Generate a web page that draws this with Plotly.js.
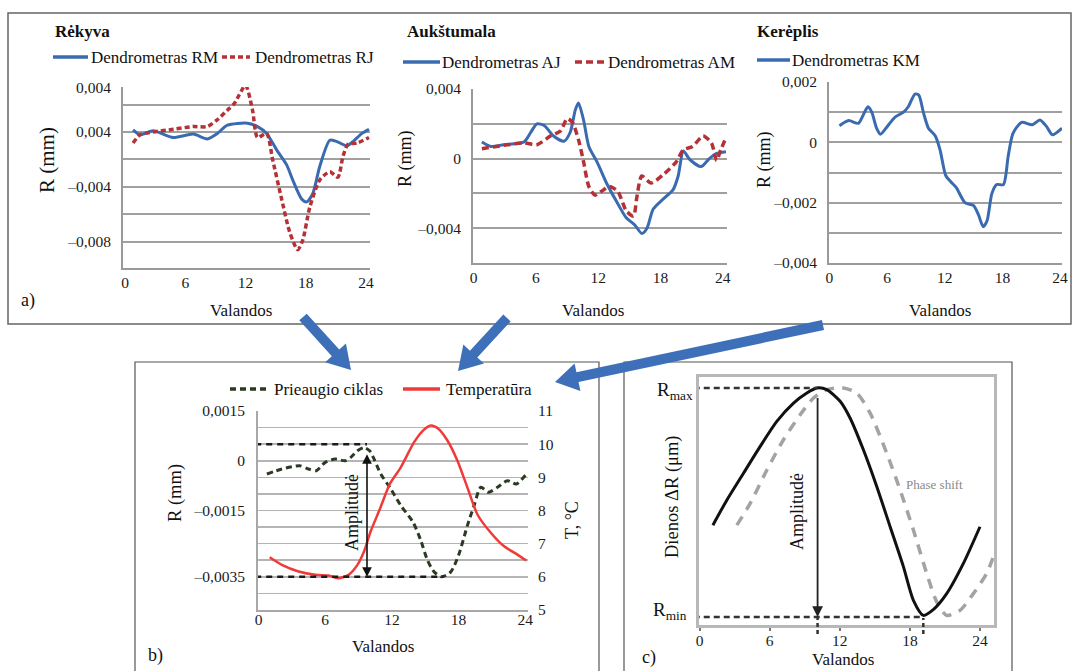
<!DOCTYPE html>
<html><head><meta charset="utf-8">
<script src="https://cdn.plot.ly/plotly-3.0.1.min.js"></script>
<style>html,body{margin:0;padding:0;background:#fff}#chart{width:1072px;height:671px}</style>
</head><body><div id="chart"></div>
<script>
// ---------------- DATA ----------------
const hourTicks = [0, 6, 12, 18, 24];

// a) Rėkyva
const rmHours = [0.8,1.5,2.8,4.8,6.8,8.2,9.2,10.2,12.2,13.2,14.1,15.1,16.1,16.7,17.6,18.1,18.7,19.4,20.4,21.1,22.1,22.7,23.6,24.3];
const rmValues = [0.00015,-0.0002,0.0001,-0.0004,-0.00015,-0.0005,-0.0001,0.0005,0.00065,0.0004,-0.0001,-0.0013,-0.0024,-0.0035,-0.0049,-0.0051,-0.0045,-0.0025,-0.0006,-0.0007,-0.001,-0.0007,-0.0001,0.0002];
const rjHours = [0.8,1.5,2.8,4.8,6.8,8.2,9.2,10.2,10.9,12.0,12.7,13.2,14.1,14.7,15.6,16.4,17.2,17.7,18.4,19.4,20.4,21.2,21.7,22.2,23.1,24.3];
const rjValues = [-0.0008,-0.0002,0.0,0.0002,0.0004,0.0004,0.0009,0.0016,0.0021,0.0034,0.0016,-0.0004,-0.0001,-0.002,-0.0049,-0.0073,-0.0086,-0.0079,-0.0055,-0.0035,-0.0029,-0.0033,-0.0018,-0.0009,-0.0008,-0.0004];
const rekyvaTickVals = [0.00328,0.002,0,-0.002,-0.004,-0.006,-0.008];
const rekyvaTickText = ['0,004','','0,004','','–0,004','','–0,008'];

// a) Aukštumala
const ajHours = [0.8,1.66,2.9,4.85,5.5,6.1,6.8,7.7,8.7,9.3,9.8,10.1,10.6,11.1,11.9,12.8,13.8,14.7,15.5,16.2,16.7,17.3,18.3,19.2,19.7,20.2,20.8,21.9,22.7,23.4,24.3];
const ajValues = [0.00095,0.0007,0.0008,0.00095,0.0015,0.002,0.0019,0.0013,0.001,0.0015,0.0028,0.0032,0.0022,0.0007,-0.0002,-0.0014,-0.0025,-0.0034,-0.0038,-0.0043,-0.004,-0.0029,-0.0023,-0.0018,-0.001,0.00044,-0.00004,-0.00046,0,0.0003,0.0004];
const amHours = [0.8,2.9,4.85,6.1,7.4,8.4,9.0,9.5,10.1,10.6,11.1,11.7,12.5,13.1,13.9,14.7,15.4,15.7,16.2,17.1,18.3,19.5,20.2,21.1,22.1,22.9,23.4,23.8,24.3];
const amValues = [0.00057,0.00076,0.0009,0.0008,0.0013,0.0016,0.0023,0.0021,0.0011,-0.0002,-0.0016,-0.0021,-0.0018,-0.0016,-0.0019,-0.003,-0.0033,-0.0023,-0.001,-0.0014,-0.0009,-0.0002,0.0005,0.0007,0.0013,0.0009,-0.0001,0.0005,0.0012];
const aukTickVals = [0.004,0.002,0,-0.002,-0.004];
const aukTickText = ['0,004','','0','','–0,004'];

// a) Kerėplis
const kmHours = [1.04,2.0,3.0,3.5,4.0,4.4,4.9,5.3,6.0,6.8,7.7,8.2,8.9,9.3,9.8,10.3,11.0,11.5,12.1,12.6,13.2,14.1,15.0,15.5,16.0,16.4,16.9,17.4,18.1,18.6,19.1,20.0,21.1,21.9,22.6,23.2,24.2];
const kmValues = [0.00055,0.00072,0.00063,0.0009,0.00118,0.001,0.00047,0.00027,0.00052,0.00083,0.001,0.00118,0.0016,0.00156,0.00096,0.00047,0.00022,-0.00024,-0.0011,-0.0013,-0.0015,-0.002,-0.0021,-0.0024,-0.0028,-0.0026,-0.0017,-0.0014,-0.0014,-0.00046,0.0003,0.00066,0.00058,0.00074,0.00052,0.00025,0.00047];
const kerTickVals = [0.002,0.001,0,-0.001,-0.002,-0.003,-0.004];
const kerTickText = ['0,002','','0','','–0,002','','–0,004'];

// b) growth cycle + temperature
const cycleHours = [0.75,2.1,3.7,4.5,5.2,6.0,6.9,7.8,8.3,8.9,9.5,10.0,10.4,11.0,11.9,12.8,13.9,14.6,15.2,15.8,16.5,17.3,18.0,18.8,19.4,20.0,20.7,21.5,22.4,23.2,24.1];
const cycleValues = [-0.0004,-0.00025,-0.00015,-0.00025,-0.0003,-0.00005,0.00005,0,0.0001,0.0003,0.0004,0.0003,0.00005,-0.0004,-0.00085,-0.00135,-0.00185,-0.0024,-0.003,-0.00335,-0.0035,-0.00335,-0.00285,-0.00195,-0.00135,-0.0008,-0.00095,-0.0008,-0.0006,-0.0007,-0.0004];
const tempHours = [1.0,2.1,3.6,5.1,6.3,7.2,8.1,8.9,9.5,10.1,10.9,11.8,12.8,14.0,14.8,15.5,16.2,17.0,17.9,18.8,19.7,20.9,22.1,23.3,24.1];
const tempValues = [6.59,6.36,6.16,6.06,6.04,5.96,6.06,6.36,6.77,7.38,8.03,8.79,9.30,10.06,10.41,10.56,10.46,10.11,9.50,8.69,7.88,7.33,6.92,6.67,6.49];
const cycleTickVals = [0.0015,0.001,0.0005,0,-0.0005,-0.001,-0.0015,-0.002,-0.0025,-0.003,-0.0035,-0.004];
const cycleTickText = ['0,0015','','','0','','','–0,0015','','','','–0,0035',''];
const tempTickVals = [5,6,7,8,9,10,11];
const cycleRmax = 0.0005, cycleRmin = -0.0035, cycleAmpHour = 9.76, cycleMinHour = 16.65;

// c) idealised cycle
const idealHours = [1.14,2.34,3.76,5.19,6.61,8.04,9.18,10.03,10.89,12.03,12.88,14.02,15.17,16.31,17.45,18.3,19.16,20.0,21.15,22.58,24.0];
const idealValues = [40.1,51.1,62.8,74.5,85.4,93.4,97.8,100,99.3,94.2,86.9,73,56.9,39.4,21.9,7.3,0.7,3.2,10.2,23.4,39.4];
const shiftHours = [3.19,4.33,5.76,7.18,8.61,9.75,10.89,12.31,13.45,14.6,16.02,17.16,18.3,19.44,20.3,21.15,22.29,23.43,24.57,25.14];
const shiftValues = [40.1,49.6,64.2,77.4,88.3,95.6,99.3,100,97.8,89,71.5,55.5,38,19,6.6,0.7,2.9,10.2,19,26.3];
const idealRmax = 100, idealRmin = 0, idealAmpHour = 10.1, idealMinHour = 19.15;

// ---------------- STYLE / LAYOUT ----------------
const W = 1072, H = 671;
const FONT = 'Liberation Serif';
const BLUE = '#3a6bb0', DRED = '#b43237', RED = '#f03a3a', DGREEN = '#2b3a22';
const dx = (a, b) => [a / W, b / W];
const dy = (top, bot) => [1 - bot / H, 1 - top / H];
const px = x => x / W, py = y => 1 - y / H;

const spl = {shape: 'spline', smoothing: 0.7};
const traces = [
  {x: rmHours, y: rmValues, name: 'Dendrometras RM', xaxis: 'x', yaxis: 'y', mode: 'lines', line: Object.assign({color: BLUE, width: 3}, spl)},
  {x: rjHours, y: rjValues, name: 'Dendrometras RJ', xaxis: 'x', yaxis: 'y', mode: 'lines', line: Object.assign({color: DRED, width: 3.5, dash: '5px,3px'}, spl)},
  {x: ajHours, y: ajValues, name: 'Dendrometras AJ', xaxis: 'x2', yaxis: 'y2', mode: 'lines', line: Object.assign({color: BLUE, width: 3}, spl)},
  {x: amHours, y: amValues, name: 'Dendrometras AM', xaxis: 'x2', yaxis: 'y2', mode: 'lines', line: Object.assign({color: DRED, width: 3.5, dash: '7px,4px'}, spl)},
  {x: kmHours, y: kmValues, name: 'Dendrometras KM', xaxis: 'x3', yaxis: 'y3', mode: 'lines', line: Object.assign({color: BLUE, width: 3}, spl)},
  {x: cycleHours, y: cycleValues, name: 'Prieaugio ciklas', xaxis: 'x4', yaxis: 'y4', mode: 'lines', line: Object.assign({color: DGREEN, width: 3, dash: '6px,4px'}, spl)},
  {x: tempHours, y: tempValues, name: 'Temperatūra', xaxis: 'x4', yaxis: 'y5', mode: 'lines', line: Object.assign({color: RED, width: 2.5}, spl)},
  {x: shiftHours, y: shiftValues, name: 'Phase shift', xaxis: 'x5', yaxis: 'y6', mode: 'lines', line: Object.assign({color: '#a3a3a3', width: 3.5, dash: '10px,8px'}, spl)},
  {x: idealHours, y: idealValues, name: 'Dienos ΔR', xaxis: 'x5', yaxis: 'y6', mode: 'lines', line: Object.assign({color: '#111', width: 3}, spl)}
];
traces.forEach(t => { t.hoverinfo = 'skip'; t.showlegend = false; t.cliponaxis = true; });

const tickFont = {family: FONT, size: 15.5, color: '#1a1a1a'};
function xAx(domain, range, anchor, o) {
  return Object.assign({domain, range, anchor, tickmode: 'array', tickvals: hourTicks, ticktext: hourTicks.map(String),
    showgrid: false, zeroline: false, showline: true, linecolor: '#9a9a9a', linewidth: 2, ticks: '',
    tickfont: tickFont, ticklabelstandoff: -1, fixedrange: true}, o || {});
}
function yAx(domain, range, anchor, vals, text, o) {
  return Object.assign({domain, range, anchor, tickmode: 'array', tickvals: vals, ticktext: text,
    showgrid: true, gridcolor: '#a0a0a0', gridwidth: 2, zeroline: false, showline: true, linecolor: '#9a9a9a', linewidth: 2,
    ticks: '', tickfont: tickFont, ticklabelstandoff: 7, fixedrange: true}, o || {});
}

function arrowPath(tx, ty, hx, hy) {
  const ddx = hx - tx, ddy = hy - ty, len = Math.hypot(ddx, ddy);
  const ux = ddx / len, uy = ddy / len, nx = -uy, ny = ux;
  const w = 5, hl = 23, hw = 14;
  const bx = hx - ux * hl, by = hy - uy * hl;
  const pts = [[tx + nx * w, ty + ny * w], [bx + nx * w, by + ny * w], [bx + nx * hw, by + ny * hw], [hx, hy],
               [bx - nx * hw, by - ny * hw], [bx - nx * w, by - ny * w], [tx - nx * w, ty - ny * w]];
  return 'M' + pts.map(p => px(p[0]).toFixed(5) + ',' + py(p[1]).toFixed(5)).join(' L') + ' Z';
}
function hline(x0, x1, y, color, width, dash) {
  return {type: 'line', xref: 'paper', yref: 'paper', x0: px(x0), x1: px(x1), y0: py(y), y1: py(y), line: {color, width, dash: dash || 'solid'}};
}
function rect(x0, y0, x1, y1, color, width) {
  return {type: 'rect', xref: 'paper', yref: 'paper', x0: px(x0), x1: px(x1), y0: py(y1), y1: py(y0), line: {color, width}, layer: 'below'};
}
function txt(x, y, text, size, o) {
  return Object.assign({xref: 'paper', yref: 'paper', x: px(x), y: py(y), text, showarrow: false, xanchor: 'center', yanchor: 'middle',
    font: {family: FONT, size: size || 17, color: (o && o.color) || '#111'}}, o || {});
}

const shapes = [
  rect(8, 13, 1071, 324, '#666', 1.5),
  rect(135, 362, 599, 690, '#555', 1.2),
  rect(624, 362, 1012, 690, '#555', 1.2),
  // legends a)
  hline(53, 88, 57, BLUE, 3.5), hline(222, 250, 57, DRED, 3.5, '5px,3px'),
  hline(403, 440, 62, BLUE, 3.5), hline(575, 605, 62, DRED, 3.5, '7px,4px'),
  hline(757, 790, 60, BLUE, 3.5),
  // legend b)
  hline(230, 267, 389, DGREEN, 3.5, '6px,4px'), hline(403, 440, 389, RED, 3.5),
  // b) reference lines
  {type: 'line', xref: 'x4', yref: 'y4', x0: -0.3, x1: cycleAmpHour, y0: cycleRmax, y1: cycleRmax, line: {color: '#1a1a1a', width: 2.5, dash: '6px,5px'}},
  {type: 'line', xref: 'x4', yref: 'y4', x0: -0.3, x1: cycleMinHour, y0: cycleRmin, y1: cycleRmin, line: {color: '#1a1a1a', width: 2.5, dash: '6px,5px'}},
  // c) reference lines
  {type: 'line', xref: 'x5', yref: 'y6', x0: -0.5, x1: idealAmpHour, y0: idealRmax, y1: idealRmax, line: {color: '#333', width: 2.5, dash: '6px,4px'}},
  {type: 'line', xref: 'x5', yref: 'y6', x0: -0.5, x1: idealMinHour, y0: idealRmin, y1: idealRmin, line: {color: '#333', width: 2.5, dash: '6px,4px'}},
  {type: 'line', xref: 'x5', yref: 'paper', x0: idealAmpHour, x1: idealAmpHour, y0: py(634), y1: py(618), line: {color: '#333', width: 2.5, dash: '4px,3px'}},
  {type: 'line', xref: 'x5', yref: 'paper', x0: idealMinHour, x1: idealMinHour, y0: py(634), y1: py(618), line: {color: '#333', width: 2.5, dash: '4px,3px'}},
  // blue arrows
  {type: 'path', xref: 'paper', yref: 'paper', path: arrowPath(303, 317, 351, 370), fillcolor: '#3d70b8', line: {width: 0}, layer: 'above'},
  {type: 'path', xref: 'paper', yref: 'paper', path: arrowPath(507, 318, 458, 371), fillcolor: '#3d70b8', line: {width: 0}, layer: 'above'},
  {type: 'path', xref: 'paper', yref: 'paper', path: arrowPath(823, 325, 555, 382), fillcolor: '#3d70b8', line: {width: 0}, layer: 'above'}
];

const annotations = [
  txt(53, 32, '<b>Rėkyva</b>', 17, {xanchor: 'left'}),
  txt(405, 32, '<b>Aukštumala</b>', 17, {xanchor: 'left'}),
  txt(755, 32, '<b>Kerėplis</b>', 17, {xanchor: 'left'}),
  txt(89, 57, 'Dendrometras RM', 17, {xanchor: 'left'}),
  txt(253, 57, 'Dendrometras RJ', 17, {xanchor: 'left'}),
  txt(440, 62, 'Dendrometras AJ', 17, {xanchor: 'left'}),
  txt(606, 62, 'Dendrometras AM', 17, {xanchor: 'left'}),
  txt(790, 60, 'Dendrometras KM', 17, {xanchor: 'left'}),
  txt(272, 389, 'Prieaugio ciklas', 17, {xanchor: 'left'}),
  txt(444, 389, 'Temperatūra', 17, {xanchor: 'left'}),
  txt(47, 160, 'R (mm)', 21, {textangle: -90}),
  txt(405, 159, 'R (mm)', 18, {textangle: -90}),
  txt(765, 160, 'R (mm)', 18, {textangle: -90}),
  txt(175, 493, 'R (mm)', 18.5, {textangle: -90}),
  txt(572, 520, 'T, °C', 18, {textangle: -90}),
  txt(672, 497, 'Dienos ΔR (μm)', 18.5, {textangle: -90}),
  txt(241, 310, 'Valandos', 17), txt(593, 310, 'Valandos', 17), txt(940, 310, 'Valandos', 17),
  txt(383, 646, 'Valandos', 17), txt(843, 659, 'Valandos', 17),
  txt(19, 300, 'a)', 18, {xanchor: 'left'}),
  txt(146, 655, 'b)', 18, {xanchor: 'left'}),
  txt(640, 657, 'c)', 18, {xanchor: 'left'}),
  txt(352, 513, 'Amplitudė', 18, {textangle: -90}),
  txt(797, 512, 'Amplitudė', 18, {textangle: -90}),
  txt(904, 484, 'Phase shift', 13, {xanchor: 'left', color: '#8a8a8a'}),
  txt(695, 391, 'R<sub>max</sub>', 19, {xanchor: 'right'}),
  txt(689, 611, 'R<sub>min</sub>', 19, {xanchor: 'right'}),
  {xref: 'x4', yref: 'y4', x: cycleAmpHour, y: cycleRmin, axref: 'x4', ayref: 'y4', ax: cycleAmpHour, ay: cycleRmax,
   text: ' ', showarrow: true, arrowhead: 2, arrowside: 'end+start', arrowsize: 1.2, arrowwidth: 1.6, arrowcolor: '#111', standoff: 0, startstandoff: 0},
  {xref: 'x5', yref: 'y6', x: idealAmpHour, y: idealRmin, axref: 'x5', ayref: 'y6', ax: idealAmpHour, ay: idealRmax,
   text: ' ', showarrow: true, arrowhead: 2, arrowsize: 1.2, arrowwidth: 1.8, arrowcolor: '#222', standoff: 0}
];

const layout = {
  width: W, height: H, margin: {l: 0, r: 0, t: 0, b: 0}, paper_bgcolor: '#fff', plot_bgcolor: 'rgba(0,0,0,0)',
  font: {family: FONT, size: 15.5, color: '#1a1a1a'}, showlegend: false,
  xaxis: xAx(dx(123, 370), [-0.2, 24.4], 'y'),
  yaxis: yAx(dy(87, 268), [-0.00993, 0.00329], 'x', rekyvaTickVals, rekyvaTickText),
  xaxis2: xAx(dx(473, 727), [-0.05, 24.4], 'y2'),
  yaxis2: yAx(dy(89, 263), [-0.006, 0.004], 'x2', aukTickVals, aukTickText),
  xaxis3: xAx(dx(829, 1062), [-0.05, 24.2], 'y3'),
  yaxis3: yAx(dy(82, 263), [-0.004, 0.002], 'x3', kerTickVals, kerTickText),
  xaxis4: xAx(dx(258, 528), [-0.05, 24.25], 'y4', {linecolor: '#a8a8a8', ticklabelstandoff: -6}),
  yaxis4: yAx(dy(411, 610), [-0.0045, 0.0015], 'x4', cycleTickVals, cycleTickText, {gridcolor: '#b4b4b4', gridwidth: 1.6, linecolor: '#a8a8a8', ticklabelstandoff: 8}),
  yaxis5: {domain: dy(411, 610), range: [5, 11], anchor: 'x4', overlaying: 'y4', side: 'right', tickmode: 'array',
           tickvals: tempTickVals, ticktext: tempTickVals.map(String), showgrid: false, zeroline: false, showline: false,
           ticks: '', tickfont: tickFont, ticklabelstandoff: 9, fixedrange: true},
  xaxis5: xAx(dx(699, 994), [-0.05, 25.2], 'y6', {mirror: true, linecolor: '#b8b8b8', linewidth: 3, ticks: 'outside', ticklen: 3, tickcolor: '#777', tickwidth: 2, ticklabelstandoff: -4}),
  yaxis6: {domain: dy(377, 625), range: [-3.5, 104.8], anchor: 'x5', showticklabels: false, showgrid: false, zeroline: false,
           showline: true, mirror: true, linecolor: '#b8b8b8', linewidth: 3, ticks: '', fixedrange: true},
  shapes, annotations
};

Plotly.newPlot('chart', traces, layout, {staticPlot: true, displayModeBar: false});
</script>
</body></html>
